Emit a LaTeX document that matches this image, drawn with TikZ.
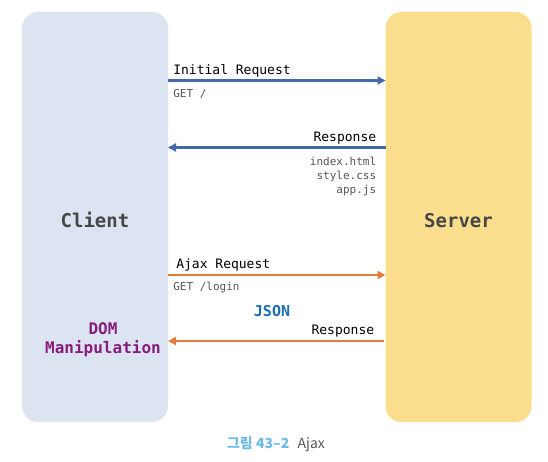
\documentclass[tikz,border=0pt]{standalone}
\usepackage{fontspec}
\setmonofont{DejaVu Sans Mono}
\newfontfamily\krfont{Noto Sans CJK KR}
\usetikzlibrary{positioning, arrows.meta}
\definecolor{clientbg}{RGB}{221, 228, 241}
\definecolor{serverbg}{RGB}{250, 222, 142}
\definecolor{reqblue}{RGB}{68, 104, 170}
\definecolor{ajaxorange}{RGB}{226, 124, 56}
\definecolor{jsonblue}{RGB}{28, 108, 180}
\definecolor{dompurple}{RGB}{135, 30, 125}
\definecolor{capblue}{RGB}{110, 185, 230}
\definecolor{textgrey}{RGB}{85, 85, 85}

\begin{document}
\begin{tikzpicture}[
      x=1pt, y=-1pt,
      font=\ttfamily,
      box/.style={rectangle, rounded corners=16pt, minimum width=146pt, minimum height=410pt, outer sep=0pt, inner sep=0pt,
        text height=20pt, text depth=0pt,
        font=\ttfamily\bfseries\fontsize{19}{22}\selectfont, text=black!72},
      blueedge/.style={-{Triangle[length=8pt, width=8pt]}, line width=2.6pt, draw=reqblue},
      orangeedge/.style={-{Triangle[length=8pt, width=8pt]}, line width=2.6pt, draw=ajaxorange},
      msglabel/.style={font=\ttfamily\fontsize{13}{15}\selectfont, text=black, inner xsep=4pt, inner ysep=2pt},
      datalabel/.style={font=\ttfamily\fontsize{11}{14}\selectfont, text=textgrey, inner xsep=4pt, inner ysep=3pt, yshift=-5pt}
    ]
      \useasboundingbox (0,0) rectangle (548,462);

      % Nodes
      \node[box, fill=clientbg] (client) at (95,217) {Client};
      \node[box, fill=serverbg] (server) at (458.5,217) {Server};
      \node[font=\ttfamily\bfseries\fontsize{16}{19}\selectfont, text=dompurple, align=center] (dom) at (103,339.5) {DOM\\Manipulation};
      \node[font=\ttfamily\bfseries\fontsize{15}{18}\selectfont, text=jsonblue] (json) at (272,311) {JSON};
      \node[anchor=base, inner sep=0pt] (caption) at (276,448)
        {\krfont\fontsize{14}{16}\selectfont\textcolor{capblue}{\bfseries 그림 43–2}\hspace{0.6em}\textcolor{textgrey}{Ajax}};

      % Rows
      \coordinate (initial) at (0,80.5);
      \coordinate (response) at (0,147.5);
      \coordinate (ajax) at (0,275);
      \coordinate (ajaxres) at (0,341);

      % Edges
      \draw[blueedge] (client.east |- initial) -- (server.west |- initial)
        node[msglabel, pos=0, above right] {Initial Request}
        node[datalabel, pos=0, below right] {GET /};
      \draw[blueedge] (server.west |- response) -- (client.east |- response)
        node[msglabel, pos=0, above left, xshift=-4pt] {Response}
        node[datalabel, pos=0, below left, xshift=-4pt, align=right] {index.html\\style.css\\app.js};
      \draw[orangeedge] (client.east |- ajax) -- (server.west |- ajax)
        node[msglabel, pos=0, above right, xshift=3pt] {Ajax Request}
        node[datalabel, pos=0, below right, yshift=2pt] {GET /login};
      \draw[orangeedge] ([xshift=-2pt]server.west |- ajaxres) -- (client.east |- ajaxres)
        node[msglabel, pos=0, above left, xshift=-4pt] {Response};
    \end{tikzpicture}
\end{document}
